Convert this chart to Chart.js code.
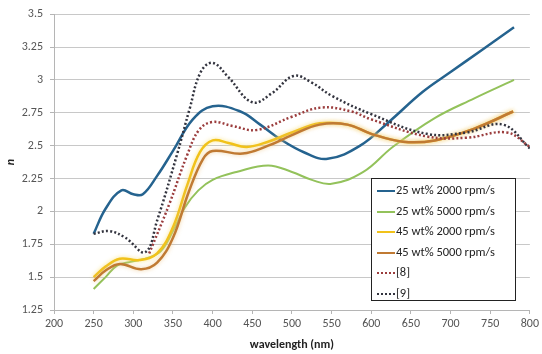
<!DOCTYPE html>
<html>
<head>
<meta charset="utf-8">
<script src="https://cdn.jsdelivr.net/npm/chart.js@4.4.1/dist/chart.umd.min.js"></script>
<style>
  html, body { margin: 0; padding: 0; background: #fff; }
  #wrap { position: relative; width: 542px; height: 354px; }
  #legend {
    position: absolute; left: 371px; top: 178px; width: 143px; height: 121px;
    border: 1px solid #222; background: #fff;
    font-family: Carlito, Lato, sans-serif; font-size: 12.5px; color: #222;
  }
  #legend .row { position: absolute; left: 0; height: 21px; line-height: 21px; white-space: nowrap; }
  #legend .swatch { display: inline-block; width: 18px; vertical-align: middle; margin: 0 1px 0 5px; }
</style>
</head>
<body>
<div id="wrap">
  <canvas id="chart" width="542" height="354"></canvas>
  <div id="legend"></div>
</div>
<script>
// axis ticks
const xTicks = [200, 250, 300, 350, 400, 450, 500, 550, 600, 650, 700, 750, 800];
const yTicks = [1.25, 1.5, 1.75, 2, 2.25, 2.5, 2.75, 3, 3.25, 3.5];

// 25 wt% 2000 rpm/s
const wl_25_2000 = [250, 265, 285, 300, 312, 330, 350, 375, 400, 435, 460, 485, 515, 545, 586, 624, 665, 700, 740, 780];
const n_25_2000  = [1.83, 2.02, 2.16, 2.13, 2.13, 2.27, 2.46, 2.70, 2.80, 2.76, 2.66, 2.55, 2.45, 2.40, 2.50, 2.69, 2.91, 3.06, 3.23, 3.40];

// 25 wt% 5000 rpm/s
const wl_25_5000 = [250, 265, 280, 300, 320, 335, 350, 365, 382, 400, 430, 470, 500, 525, 550, 590, 627, 680, 730, 780];
const n_25_5000  = [1.41, 1.50, 1.59, 1.62, 1.65, 1.70, 1.85, 2.03, 2.16, 2.24, 2.30, 2.35, 2.30, 2.24, 2.21, 2.30, 2.49, 2.71, 2.86, 3.00];

// 45 wt% 2000 rpm/s
const wl_45_2000 = [250, 265, 283, 308, 330, 350, 368, 384, 400, 420, 443, 470, 500, 535, 570, 600, 640, 680, 730, 779];
const n_45_2000  = [1.50, 1.58, 1.64, 1.63, 1.68, 1.88, 2.20, 2.45, 2.54, 2.52, 2.49, 2.53, 2.60, 2.67, 2.66, 2.59, 2.53, 2.54, 2.63, 2.76];

// 45 wt% 5000 rpm/s
const wl_45_5000 = [250, 265, 283, 310, 330, 350, 370, 388, 400, 438, 470, 500, 535, 570, 600, 640, 680, 730, 779];
const n_45_5000  = [1.47, 1.55, 1.60, 1.56, 1.61, 1.80, 2.15, 2.40, 2.46, 2.44, 2.50, 2.58, 2.66, 2.66, 2.59, 2.53, 2.54, 2.63, 2.76];

// [8]
const wl_ref8 = [320, 345, 368, 383, 400, 425, 456, 500, 537, 575, 600, 670, 720, 771, 800];
const n_ref8  = [1.68, 2.05, 2.43, 2.62, 2.68, 2.65, 2.62, 2.72, 2.79, 2.76, 2.70, 2.57, 2.56, 2.60, 2.49];

// [9]
const wl_ref9 = [250, 270, 290, 315, 330, 355, 371, 385, 400, 420, 450, 475, 502, 525, 550, 600, 670, 720, 766, 800];
const n_ref9  = [1.83, 1.85, 1.80, 1.69, 1.93, 2.43, 2.78, 3.06, 3.13, 3.02, 2.83, 2.90, 3.03, 2.98, 2.88, 2.74, 2.59, 2.60, 2.66, 2.48];

const FONT = 'Carlito, Lato, sans-serif';

function pts(xs, ys) {
    return xs.map((x, i) => ({ x: x, y: ys[i] }));
}

function solid(label, xs, ys, color, width, order) {
    return { label, data: pts(xs, ys), borderColor: color, borderWidth: width,
             pointRadius: 0, tension: 0.4, fill: false, order };
}

function dotted(label, xs, ys, color, order) {
    return { label, data: pts(xs, ys), borderColor: color, borderWidth: 2.5,
             borderDash: [2, 2.2], pointRadius: 0, tension: 0.4, fill: false, order, dotted: true };
}

const datasets = [
    solid('25 wt% 2000 rpm/s', wl_25_2000, n_25_2000, '#25638f', 2.5, 6),
    solid('25 wt% 5000 rpm/s', wl_25_5000, n_25_5000, '#93c25b', 2, 5),
    solid('45 wt% 2000 rpm/s', wl_45_2000, n_45_2000, '#f1c21a', 2.5, 4),
    solid('45 wt% 5000 rpm/s', wl_45_5000, n_45_5000, '#c07a33', 2.5, 3),
    dotted('[8]', wl_ref8, n_ref8, '#9b3d3d', 2),
    dotted('[9]', wl_ref9, n_ref9, '#33343f', 1)
];
datasets[2].glow = 'rgba(250, 225, 120, 0.9)';
datasets[3].glow = 'rgba(235, 190, 120, 0.7)';

// soft glow like the Excel lines
const glowPlugin = {
    id: 'glow',
    beforeDatasetDraw(chart, args) {
        const ds = chart.data.datasets[args.index];
        chart.ctx.save();
        if (ds.glow) {
            chart.ctx.shadowColor = ds.glow;
            chart.ctx.shadowBlur = 4;
        }
    },
    afterDatasetDraw(chart) {
        chart.ctx.restore();
    }
};

new Chart(document.getElementById('chart').getContext('2d'), {
    type: 'line',
    data: { datasets },
    plugins: [glowPlugin],
    options: {
        responsive: false,
        animation: false,
        layout: { padding: { left: 0, right: 12, top: 11, bottom: 0 } },
        plugins: {
            legend: { display: false },
            tooltip: { enabled: false }
        },
        scales: {
            x: {
                type: 'linear',
                min: 200,
                max: 800,
                afterBuildTicks: s => { s.ticks = xTicks.map(v => ({ value: v })); },
                afterFit: s => { s.height = 44; },
                ticks: { color: '#555', font: { family: FONT, size: 12 }, padding: 3, maxRotation: 0 },
                grid: { drawOnChartArea: false, tickLength: 4, tickColor: '#b5b5b5' },
                border: { color: '#b5b5b5', width: 1 },
                title: {
                    display: true, text: 'wavelength (nm)', color: '#222',
                    font: { family: FONT, size: 12, weight: 'bold' },
                    padding: { top: 0, bottom: 2 }
                }
            },
            y: {
                min: 1.25,
                max: 3.5,
                afterBuildTicks: s => { s.ticks = yTicks.map(v => ({ value: v })); },
                afterFit: s => { s.width = 54; },
                ticks: {
                    color: '#555', font: { family: FONT, size: 12 }, padding: 7,
                    callback: v => String(+v.toFixed(2))
                },
                grid: { color: '#c8c8c8', tickLength: 4, tickColor: '#b5b5b5' },
                border: { color: '#b5b5b5', width: 1 },
                title: {
                    display: true, text: 'n', color: '#222',
                    font: { family: FONT, size: 12, weight: 'bold', style: 'italic' },
                    padding: { top: 4, bottom: 0 }
                }
            }
        }
    }
});

// legend inside the plot, built from the datasets
const legend = document.getElementById('legend');
datasets.forEach((ds, i) => {
    const row = document.createElement('div');
    row.className = 'row';
    row.style.top = (i * 20.5) + 'px';
    const sw = document.createElement('span');
    sw.className = 'swatch';
    sw.style.borderTop = ds.dotted ? '2.5px dotted ' + ds.borderColor : '2.5px solid ' + ds.borderColor;
    row.appendChild(sw);
    row.appendChild(document.createTextNode(ds.label));
    legend.appendChild(row);
});
</script>
</body>
</html>
